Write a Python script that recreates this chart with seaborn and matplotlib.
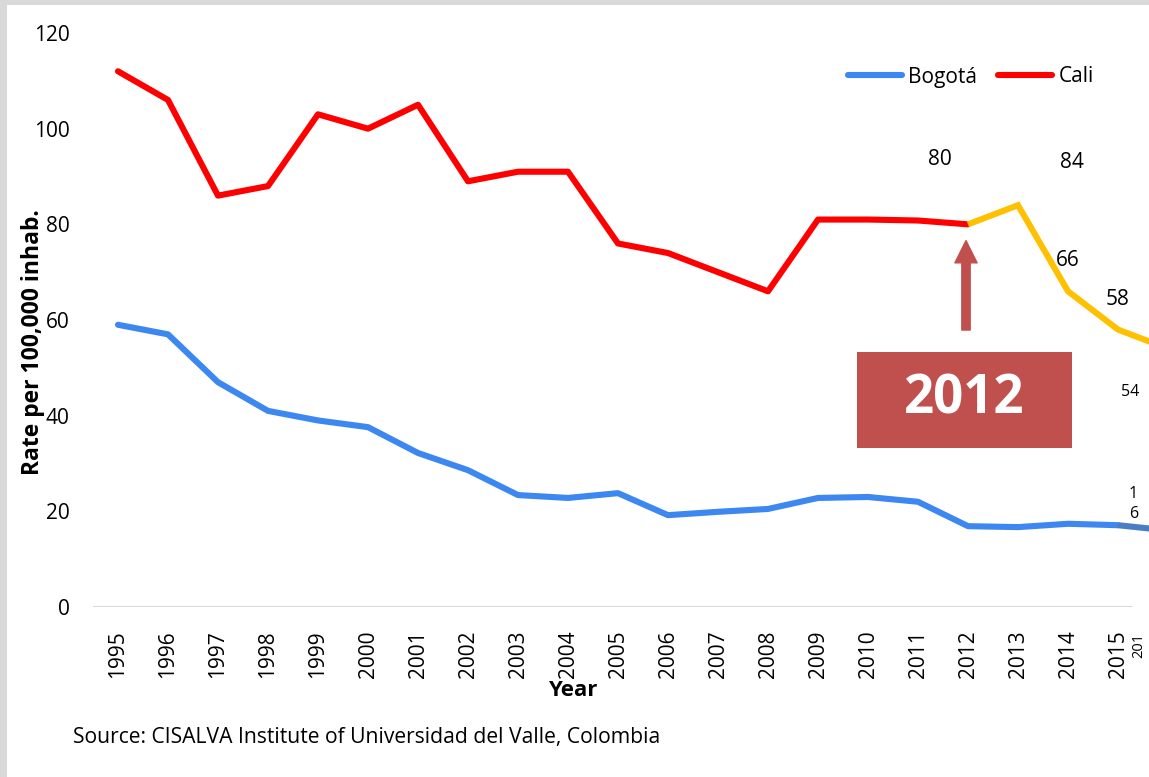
import matplotlib
matplotlib.use("Agg")
import matplotlib.pyplot as plt
from matplotlib.patches import Rectangle
from matplotlib.lines import Line2D
import numpy as np
import pandas as pd
import seaborn as sns

# Homicide rates per 100,000 inhabitants
years = [1995, 1996, 1997, 1998, 1999, 2000, 2001, 2002, 2003, 2004, 2005,
         2006, 2007, 2008, 2009, 2010, 2011, 2012, 2013, 2014, 2015, 2016]
bogota = [59, 57, 47, 41, 39, 37.6, 32.2, 28.6, 23.4, 22.8, 23.8,
          19.2, 19.9, 20.5, 22.8, 23.0, 22.0, 16.9, 16.7, 17.4, 17.1, 16]
cali = [112, 106, 86, 88, 103, 100, 105, 89, 91, 91, 76,
        74, 70, 66, 81, 81, 80.8, 80, 84, 66, 58, 54]

# Values written next to the recent Cali points, and the 2016 Bogotá point
cali_labeled_years = [2012, 2013, 2014, 2015, 2016]
highlight_year = 2012

BLUE = "#3D87F0"
BLUE_DARK = "#4A7EC2"
RED = "#FF0000"
GOLD = "#FFC000"
BRICK = "#C0504D"

sns.set_style("white")
plt.rcParams["font.family"] = ["Open Sans", "DejaVu Sans"]
plt.rcParams["text.color"] = "black"
plt.rcParams["xtick.color"] = "black"
plt.rcParams["ytick.color"] = "black"

df = pd.DataFrame({"year": years, "idx": np.arange(len(years)),
                   "Bogotá": bogota, "Cali": cali})
i_hl = years.index(highlight_year)
n = len(years)

fig = plt.figure(figsize=(11.49, 7.77), dpi=100)
fig.patch.set_facecolor("#D9D9D9")
fig.add_artist(Rectangle((7 / 1149, 0), 1 - 7 / 1149, 1 - 5 / 777,
                         transform=fig.transFigure, facecolor="white",
                         edgecolor="none", zorder=0))

ax = fig.add_axes([93 / 1149, 170 / 777, 1100 / 1149, 574 / 777])
ax.set_facecolor("none")
ax.set_xlim(-0.5, n - 0.5)
ax.set_ylim(0, 120)

lw = 4.4
seg_b1 = df.iloc[: n - 1]
seg_b2 = df.iloc[n - 2:]
seg_c1 = df.iloc[: i_hl + 1]
seg_c2 = df.iloc[i_hl:]
sns.lineplot(data=seg_b1, x="idx", y="Bogotá", color=BLUE, lw=lw, ax=ax,
             solid_capstyle="round", solid_joinstyle="round")
sns.lineplot(data=seg_b2, x="idx", y="Bogotá", color=BLUE_DARK, lw=lw, ax=ax,
             solid_capstyle="butt")
sns.lineplot(data=seg_c1, x="idx", y="Cali", color=RED, lw=lw, ax=ax,
             solid_capstyle="round", solid_joinstyle="round")
sns.lineplot(data=seg_c2, x="idx", y="Cali", color=GOLD, lw=lw, ax=ax,
             solid_capstyle="butt", solid_joinstyle="miter")

# Baseline
ax.plot([-0.5, 20.28], [0, 0], color="#D9D9D9", lw=1.5, zorder=1)

for s in ax.spines.values():
    s.set_visible(False)

fs = 15
ax.set_yticks(range(0, 121, 20))
ax.set_yticklabels([str(v) for v in range(0, 121, 20)], fontsize=fs)
ax.tick_params(axis="y", length=0, pad=17)
ax.set_xticks(range(n - 1))
ax.set_xticklabels([str(y) for y in years[:-1]], rotation=90, fontsize=fs)
ax.tick_params(axis="x", length=0, pad=17)
ax.text(20.42, -5.5, str(years[-1])[:3], rotation=90, fontsize=10.5,
        ha="center", va="top")

ax.set_xlabel("")
ax.set_ylabel("")
fig.text(573 / 1149, 1 - 690 / 777, "Year", fontsize=16, fontweight="bold",
         ha="center", va="center")
fig.text(33 / 1149, 1 - 342 / 777, "Rate per 100,000 inhab.", fontsize=16.5,
         fontweight="bold", rotation=90, ha="center", va="center")
fig.text(73 / 1149, 1 - 738 / 777,
         "Source: CISALVA Institute of Universidad del Valle, Colombia",
         fontsize=15.2, ha="left", va="center")

# Data labels (offsets in points)
offsets = {2012: (-20, 47), 2013: (39, 31), 2014: (0, 22), 2015: (0, 22),
           2016: (-27, -31)}
for y in cali_labeled_years:
    i = years.index(y)
    v = cali[i]
    size = 11.5 if y == years[-1] else fs
    ax.annotate(f"{v:.0f}", xy=(i, v), xytext=offsets[y],
                textcoords="offset points", ha="center", va="center",
                fontsize=size)
vb = bogota[-1]
ax.annotate("\n".join(f"{vb:.0f}"), xy=(n - 1, vb), xytext=(-25, 19),
            textcoords="offset points", ha="center", va="center",
            fontsize=11.5, linespacing=1.3)

# Highlight box and arrow
ax.add_patch(Rectangle((14.78, 33.2), 4.3, 20.1, facecolor=BRICK,
                       edgecolor="none", zorder=3))
ax.text(16.93, 43.3, str(highlight_year), color="white", fontsize=38,
        fontweight="bold", ha="center", va="center", zorder=4)
ax.annotate("", xy=(i_hl - 0.04, 76.6), xytext=(i_hl - 0.04, 57.9),
            arrowprops=dict(arrowstyle="simple,head_length=0.8,head_width=0.8,tail_width=0.3",
                            color=BRICK, mutation_scale=20, shrinkA=0,
                            shrinkB=0), zorder=3)

# Legend
handles = [Line2D([0], [0], color=BLUE, lw=lw, solid_capstyle="round"),
           Line2D([0], [0], color=RED, lw=lw, solid_capstyle="round")]
fig.legend(handles, ["Bogotá", "Cali"], loc="center left",
           bbox_to_anchor=(848 / 1149, 1 - 77 / 777), ncol=2, frameon=False,
           fontsize=fs, handlelength=2.6, handletextpad=0.3,
           columnspacing=1.0, borderpad=0, borderaxespad=0)

fig.savefig("out.png", dpi=100, facecolor=fig.get_facecolor())
